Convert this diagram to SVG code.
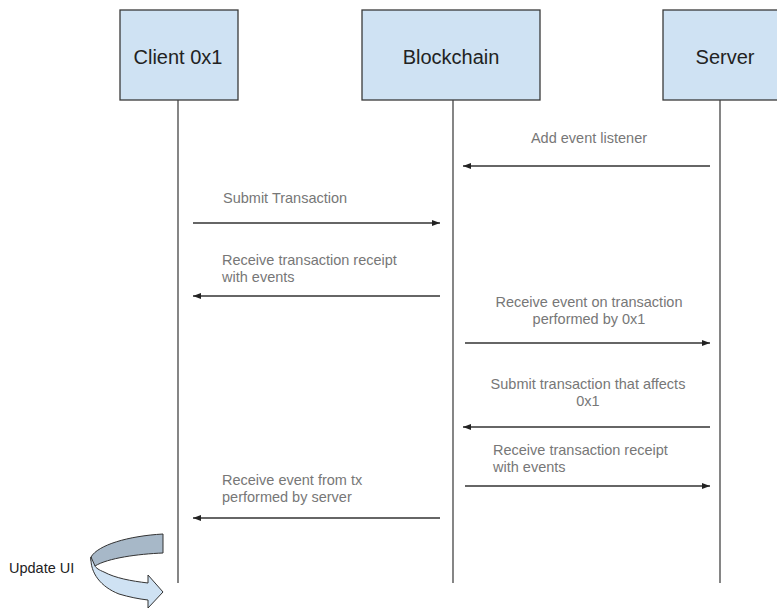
<svg xmlns="http://www.w3.org/2000/svg" width="777" height="610" viewBox="0 0 777 610">
  <style>
    .box { fill: #cfe2f3; stroke: #3a3a3a; stroke-width: 1.3; }
    .title { font-family: "Liberation Sans", Arial, sans-serif; font-size: 20px; fill: #222; text-anchor: middle; }
    .life { stroke: #444; stroke-width: 1.3; fill: none; }
    .msg { stroke: #333; stroke-width: 1.3; fill: none; marker-end: url(#head); }
    .lbl { font-family: "Liberation Sans", Arial, sans-serif; font-size: 14.5px; fill: #777; }
    .mid { text-anchor: middle; }
    .note { font-family: "Liberation Sans", Arial, sans-serif; font-size: 14.5px; fill: #222; }
    .ribbon { stroke: #333; stroke-width: 1; stroke-linejoin: round; }
  </style>
  <defs>
    <marker id="head" viewBox="0 0 8 6" refX="8" refY="3" markerWidth="8" markerHeight="6" markerUnits="userSpaceOnUse" orient="auto">
      <path d="M0,0 L8,3 L0,6 Z" fill="#222"/>
    </marker>
  </defs>
  <rect width="777" height="610" fill="#fff"/>

  <!-- participants -->
  <g id="client">
    <rect class="box" x="120" y="10" width="118" height="90"/>
    <text class="title" x="178" y="64">Client 0x1</text>
    <line class="life" x1="178" y1="100" x2="178" y2="583"/>
  </g>
  <g id="blockchain">
    <rect class="box" x="362" y="10" width="178" height="90"/>
    <text class="title" x="451" y="64">Blockchain</text>
    <line class="life" x1="453" y1="100" x2="453" y2="583"/>
  </g>
  <g id="server">
    <rect class="box" x="663" y="10" width="130" height="90"/>
    <text class="title" x="725" y="64">Server</text>
    <line class="life" x1="720" y1="100" x2="720" y2="583"/>
  </g>

  <!-- messages -->
  <g id="connectors">
    <line class="msg" x1="710" y1="166" x2="463" y2="166"/>
    <line class="msg" x1="193" y1="223" x2="440" y2="223"/>
    <line class="msg" x1="440" y1="296" x2="193" y2="296"/>
    <line class="msg" x1="465" y1="343" x2="710" y2="343"/>
    <line class="msg" x1="710" y1="427" x2="463" y2="427"/>
    <line class="msg" x1="465" y1="486" x2="710" y2="486"/>
    <line class="msg" x1="440" y1="518" x2="193" y2="518"/>
  </g>

  <g id="labels">
    <text class="lbl mid" x="589" y="143">Add event listener</text>
    <text class="lbl" x="223" y="203">Submit Transaction</text>
    <text class="lbl" x="222" y="265">Receive transaction receipt</text>
    <text class="lbl" x="222" y="282">with events</text>
    <text class="lbl mid" x="589" y="307">Receive event on transaction</text>
    <text class="lbl mid" x="589" y="324">performed by 0x1</text>
    <text class="lbl mid" x="588" y="389">Submit transaction that affects</text>
    <text class="lbl mid" x="588" y="406">0x1</text>
    <text class="lbl" x="493" y="455">Receive transaction receipt</text>
    <text class="lbl" x="493" y="472">with events</text>
    <text class="lbl" x="222" y="485">Receive event from tx</text>
    <text class="lbl" x="222" y="502">performed by server</text>
  </g>

  <!-- self-update: curved ribbon arrow on the client side -->
  <g id="update-ui">
    <path class="ribbon" fill="#a7b8c8" d="M163,534 L163,553 C138,554 108,558 95,566 C92,563 90,560 91,557 C98,545 128,536 163,534 Z"/>
    <path class="ribbon" fill="#cfe2f3" d="M91,557 C90,573 101,587 119,594 C129,597 139,599 148,600 L148,608 L163,592 L148,575 L148,583 C131,581 115,578 104,572 C99,570 96,568 95,566 Z"/>
    <text class="note" x="9" y="573">Update UI</text>
  </g>
</svg>
